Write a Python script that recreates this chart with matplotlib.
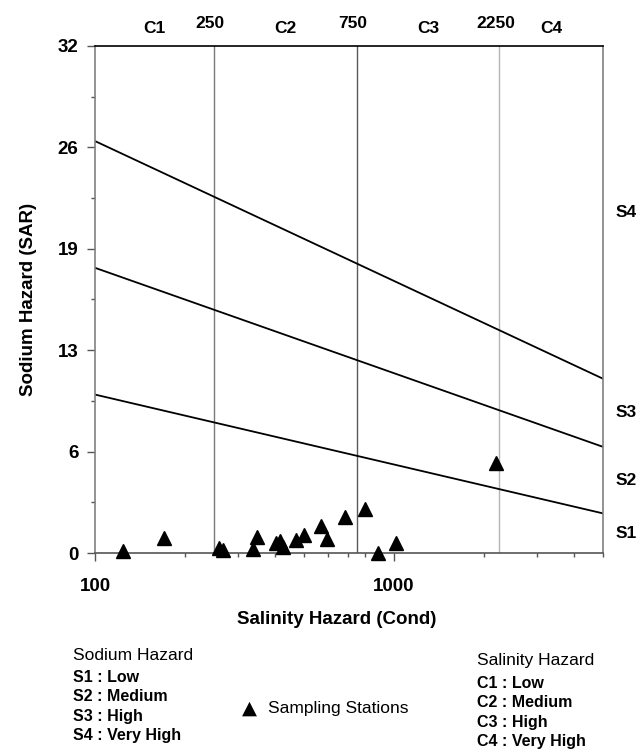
import matplotlib
matplotlib.use('Agg')
import matplotlib.pyplot as plt
import matplotlib.transforms as mtransforms
import numpy as np

plt.rcParams['font.family'] = ['Liberation Sans', 'DejaVu Sans']

# Sampling stations: conductivity and SAR
cond = [124, 170, 260, 267, 337, 349, 403, 416, 426, 469,
        500, 569, 598, 686, 798, 886, 1016, 2188]
sar = [0.1, 0.95, 0.33, 0.19, 0.25, 1.0, 0.61, 0.76, 0.40, 0.80,
       1.12, 1.70, 0.86, 2.29, 2.76, 0.0, 0.61, 5.70]

# Salinity class boundaries (vertical lines)
c_bounds = [250, 750, 2250]
c_names = ['C1', 'C2', 'C3', 'C4']

# Sodium class boundaries: SAR at cond=100 and at cond=5000
x_range = [100, 5000]
s_left = [10, 18, 26]
s_right = [2.5, 6.7, 11.0]
s_names = ['S1', 'S2', 'S3', 'S4']

y_ticks = [0, 6.4, 12.8, 19.2, 25.6, 32]
y_labels = ['0', '6', '13', '19', '26', '32']


def draw_diagram():
    fig = plt.figure(figsize=(6.38, 7.54), dpi=100)
    ax = fig.add_axes([95 / 638, 1 - 553 / 754, 508 / 638, 507 / 754])
    ax.set_xscale('log')
    ax.set_xlim(x_range)
    ax.set_ylim(0, 32)

    vcolors = ['#7a7a7a', '#5a5a5a', '#b4b4b4']
    for c, col in zip(c_bounds, vcolors):
        ax.axvline(c, color=col, lw=1.0, zorder=1)

    for a, b in zip(s_left, s_right):
        ax.plot(x_range, [a, b], color='black', lw=1.3, zorder=2)

    ax.plot(cond, sar, linestyle='none', marker='^', ms=9.5, color='black',
            clip_on=False, zorder=3)

    ax.set_yticks(y_ticks)
    ax.set_yticklabels(y_labels)
    ax.set_yticks(np.arange(3.2, 32, 6.4), minor=True)
    ax.set_xticks([100, 1000])
    ax.set_xticklabels(['100', '1000'])
    ax.tick_params(which='major', length=6, width=1, color='#555555',
                   labelsize=13.5)
    ax.tick_params(axis='x', which='major', pad=12)
    ax.tick_params(axis='y', which='major', pad=6)
    ax.tick_params(which='minor', length=3, width=1, color='#555555')
    for lab in ax.get_xticklabels() + ax.get_yticklabels():
        lab.set_fontweight('bold')

    ax.spines['top'].set_color('black')
    ax.spines['right'].set_color('#808080')
    ax.spines['left'].set_color('#808080')
    ax.spines['bottom'].set_color('#555555')
    for s in ax.spines.values():
        s.set_linewidth(1.2)

    ax.set_xlabel('Salinity Hazard (Cond)', fontsize=13.5, fontweight='bold')
    ax.set_ylabel('Sodium Hazard (SAR)', fontsize=13.5, fontweight='bold')
    ax.xaxis.set_label_coords(0.476, -0.115)
    ax.yaxis.set_label_coords(-0.115, 0.5)

    # class labels above the plot
    tr_top = mtransforms.blended_transform_factory(ax.transData, ax.transAxes)
    for c in c_bounds:
        ax.text(c * 0.97, 1.045, str(c), transform=tr_top, ha='center',
                va='center', fontsize=12.5, fontweight='bold')
    edges = [x_range[0]] + c_bounds + [x_range[1]]
    for i, name in enumerate(c_names):
        mid = np.sqrt(edges[i] * edges[i + 1])
        ax.text(mid, 1.035, name, transform=tr_top, ha='center',
                va='center', fontsize=12.5, fontweight='bold')

    # sodium class labels on the right
    tr_right = mtransforms.blended_transform_factory(ax.transAxes, ax.transData)
    s_edges = [0] + s_right + [32]
    for i, name in enumerate(s_names):
        mid = (s_edges[i] + s_edges[i + 1]) / 2
        ax.text(1.045, mid, name, transform=tr_right, ha='center',
                va='center', fontsize=12.5, fontweight='bold')

    # key below the chart
    def px(x, y):
        return x / 638, 1 - y / 754

    fig.text(*px(73, 656), 'Sodium Hazard', fontsize=12.5, va='center')
    sod = ['S1 : Low', 'S2 : Medium', 'S3 : High', 'S4 : Very High']
    for i, t in enumerate(sod):
        fig.text(*px(73, 677 + 19.5 * i), t, fontsize=11.5,
                 fontweight='bold', va='center')
    fig.text(*px(242, 708), '\u25b2', fontsize=14, va='center',
             family=['DejaVu Sans'])
    fig.text(*px(268, 709), 'Sampling Stations', fontsize=12.5,
             va='center')
    fig.text(*px(477, 661), 'Salinity Hazard', fontsize=12.5, va='center')
    sal = ['C1 : Low', 'C2 : Medium', 'C3 : High', 'C4 : Very High']
    for i, t in enumerate(sal):
        fig.text(*px(477, 683 + 19.5 * i), t, fontsize=11.5,
                 fontweight='bold', va='center')

    fig.savefig('out.png', dpi=100)


def main():
    draw_diagram()


if __name__ == '__main__':
    main()
